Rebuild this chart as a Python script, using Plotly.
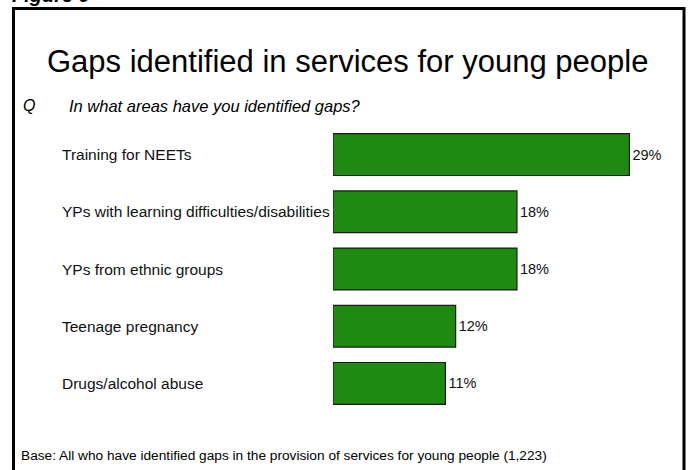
import plotly.graph_objects as go

categories = ["Training for NEETs",
              "YPs with learning difficulties/disabilities",
              "YPs from ethnic groups",
              "Teenage pregnancy",
              "Drugs/alcohol abuse"]
values = [29, 18, 18, 12, 11]

W, H = 688, 470
ML, MR, MT, MB = 333, 8, 126, 58
PW = W - ML - MR
PH = H - MT - MB
PX_PER_UNIT = 10.22
XMAX = PW / PX_PER_UNIT

def px(x):
    return (x - ML) / PW

def py(y):
    return (H - MB - y) / PH

FONT = "Liberation Sans, Arial, sans-serif"

fig = go.Figure(go.Bar(
    y=categories, x=values, orientation="h",
    marker=dict(color="#1E8B10", line=dict(color="#1a1a1a", width=1.2)),
    text=[f"{v}%" for v in values], textposition="outside",
    textfont=dict(family=FONT, size=14.5, color="#111"),
    cliponaxis=False, width=0.73,
))

annotations = []
for c in categories:
    annotations.append(dict(xref="paper", yref="y", x=px(60), y=c, text=c,
                            xanchor="left", yanchor="middle", showarrow=False,
                            font=dict(family=FONT, size=15.5, color="#111")))
annotations += [
    dict(xref="paper", yref="paper", x=px(347), y=py(61), text="Gaps identified in services for young people",
         xanchor="center", yanchor="middle", showarrow=False,
         font=dict(family=FONT, size=31, color="#000")),
    dict(xref="paper", yref="paper", x=px(21), y=py(106), text="<i>Q</i>",
         xanchor="left", yanchor="middle", showarrow=False,
         font=dict(family=FONT, size=16, color="#000")),
    dict(xref="paper", yref="paper", x=px(67), y=py(106), text="<i>In what areas have you identified gaps?</i>",
         xanchor="left", yanchor="middle", showarrow=False,
         font=dict(family=FONT, size=16.5, color="#000")),
    dict(xref="paper", yref="paper", x=px(19), y=py(455), text="Base: All who have identified gaps in the provision of services for young people (1,223)",
         xanchor="left", yanchor="middle", showarrow=False,
         font=dict(family=FONT, size=13.7, color="#000")),
    dict(xref="paper", yref="paper", x=px(10), y=py(8), text="<b><i>Figure 9</i></b>",
         xanchor="left", yanchor="bottom", showarrow=False,
         font=dict(family=FONT, size=20, color="#000")),
]

fig.update_layout(
    width=W, height=H,
    margin=dict(l=ML, r=MR, t=MT, b=MB, pad=0),
    paper_bgcolor="white", plot_bgcolor="white",
    showlegend=False,
    xaxis=dict(range=[0, XMAX], visible=False, fixedrange=True),
    yaxis=dict(autorange=False, range=[4.5, -0.5], visible=False, fixedrange=True,
               categoryorder="array", categoryarray=categories),
    annotations=annotations,
    shapes=[dict(type="path", xref="paper", yref="paper",
                 path=f"M {px(13.5)},{py(490)} L {px(13.5)},{py(8.5)} L {px(684)},{py(8.5)} L {px(684)},{py(490)}",
                 line=dict(color="black", width=3))],
)

fig.write_html("out.html")
